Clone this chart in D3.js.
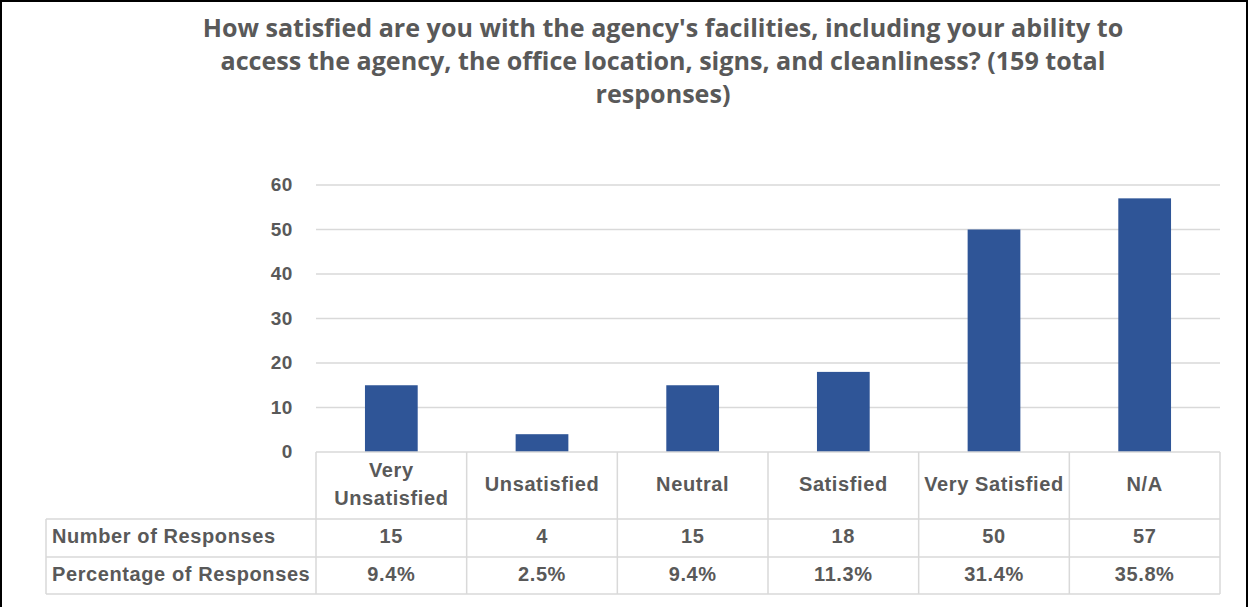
<!DOCTYPE html>
<html>
<head>
<meta charset="utf-8">
<script src="https://cdn.jsdelivr.net/npm/d3@7"></script>
<style>
  html, body { margin: 0; padding: 0; background: #fff; }
  svg { display: block; }
</style>
</head>
<body>
<svg id="chart" width="1249" height="607"></svg>
<script>
// Survey data
const categories = ["Very Unsatisfied", "Unsatisfied", "Neutral", "Satisfied", "Very Satisfied", "N/A"];
const categoryLines = [["Very", "Unsatisfied"], ["Unsatisfied"], ["Neutral"], ["Satisfied"], ["Very Satisfied"], ["N/A"]];
const responses = [15, 4, 15, 18, 50, 57];
const percentages = ["9.4%", "2.5%", "9.4%", "11.3%", "31.4%", "35.8%"];
const yTicks = [0, 10, 20, 30, 40, 50, 60];
const rowLabels = ["Number of Responses", "Percentage of Responses"];
const titleLines = [
  "How satisfied are you with the agency's facilities, including your ability to",
  "access the agency, the office location, signs, and cleanliness? (159 total",
  "responses)"
];

const svg = d3.select("#chart");
const textColor = "#595959";
const gridColor = "#D9D9D9";
const barColor = "#2F5597";
const labelFont = "'Liberation Sans', Arial, sans-serif";
const labelSize = 20;
const labelSpacing = "0.6px";
const textShift = -2;

const plot = { left: 316, right: 1220, top: 185, bottom: 452 };
const table = { left: 46, headBottom: 519, row1Bottom: 557, row2Bottom: 594 };

const x = d3.scaleBand().domain(categories).range([plot.left, plot.right]).paddingInner(0.65).paddingOuter(0.325);
const xCell = d3.scaleBand().domain(categories).range([plot.left, plot.right]);
const y = d3.scaleLinear().domain([0, 60]).range([plot.bottom, plot.top]);

// Outer frame
svg.append("rect").attr("x", 1).attr("y", 1).attr("width", 1246).attr("height", 640)
  .attr("fill", "none").attr("stroke", "#000").attr("stroke-width", 2);

// Title
svg.append("g").selectAll("text").data(titleLines).join("text")
  .attr("x", 663).attr("y", (d, i) => 37 + i * 33)
  .attr("text-anchor", "middle")
  .attr("font-family", "'Open Sans', sans-serif").attr("font-weight", 700)
  .attr("font-size", 25.1).attr("fill", textColor)
  .text(d => d);

// Gridlines and value axis
const yAxis = d3.axisLeft(y).tickValues(yTicks).tickSize(0).tickPadding(0);
const gAxis = svg.append("g").attr("transform", `translate(${plot.left},0)`).call(yAxis);
gAxis.select(".domain").remove();
gAxis.selectAll("text")
  .attr("x", -23).attr("dy", "0.3em")
  .attr("font-family", labelFont).attr("font-weight", 700).attr("font-size", 19)
  .attr("letter-spacing", labelSpacing)
  .attr("fill", textColor);

svg.append("g").selectAll("line").data(yTicks.filter(t => t > 0)).join("line")
  .attr("x1", plot.left).attr("x2", plot.right)
  .attr("y1", d => y(d)).attr("y2", d => y(d))
  .attr("stroke", gridColor).attr("stroke-width", 1.5);

// Bars
svg.append("g").selectAll("rect").data(categories).join("rect")
  .attr("x", d => x(d)).attr("width", x.bandwidth())
  .attr("y", (d, i) => y(responses[i]))
  .attr("height", (d, i) => y(0) - y(responses[i]))
  .attr("fill", barColor);

// Data table grid
const tg = svg.append("g").attr("stroke", gridColor).attr("stroke-width", 1.5).attr("fill", "none");
tg.append("line").attr("x1", plot.left).attr("x2", plot.right).attr("y1", plot.bottom).attr("y2", plot.bottom);
[table.headBottom, table.row1Bottom, table.row2Bottom].forEach(yy => {
  tg.append("line").attr("x1", table.left).attr("x2", plot.right).attr("y1", yy).attr("y2", yy);
});
tg.append("line").attr("x1", table.left).attr("x2", table.left).attr("y1", table.headBottom).attr("y2", table.row2Bottom);
categories.forEach(c => {
  tg.append("line").attr("x1", xCell(c)).attr("x2", xCell(c)).attr("y1", plot.bottom).attr("y2", table.row2Bottom);
});
tg.append("line").attr("x1", plot.right).attr("x2", plot.right).attr("y1", plot.bottom).attr("y2", table.row2Bottom);

// Category headers
const head = svg.append("g").attr("font-family", labelFont).attr("font-weight", 700)
  .attr("font-size", labelSize).attr("letter-spacing", labelSpacing)
  .attr("fill", textColor).attr("text-anchor", "middle");
categories.forEach((c, i) => {
  const lines = categoryLines[i];
  const cx = xCell(c) + xCell.bandwidth() / 2;
  const mid = (plot.bottom + table.headBottom) / 2 + textShift;
  lines.forEach((ln, j) => {
    head.append("text").attr("x", cx)
      .attr("y", mid + (j - (lines.length - 1) / 2) * 28)
      .attr("dy", "0.35em").text(ln);
  });
});

// Row labels
svg.append("g").selectAll("text").data(rowLabels).join("text")
  .attr("x", 52)
  .attr("y", (d, i) => (i === 0 ? (table.headBottom + table.row1Bottom) / 2 : (table.row1Bottom + table.row2Bottom) / 2) + textShift)
  .attr("dy", "0.35em")
  .attr("font-family", labelFont).attr("font-weight", 700).attr("font-size", labelSize)
  .attr("letter-spacing", labelSpacing)
  .attr("fill", textColor).text(d => d);

// Table values
const vals = svg.append("g").attr("font-family", labelFont).attr("font-weight", 700)
  .attr("font-size", labelSize).attr("letter-spacing", labelSpacing)
  .attr("fill", textColor).attr("text-anchor", "middle");
vals.selectAll("text.n").data(categories).join("text").attr("class", "n")
  .attr("x", d => xCell(d) + xCell.bandwidth() / 2)
  .attr("y", (table.headBottom + table.row1Bottom) / 2 + textShift).attr("dy", "0.35em")
  .text((d, i) => responses[i]);
vals.selectAll("text.p").data(categories).join("text").attr("class", "p")
  .attr("x", d => xCell(d) + xCell.bandwidth() / 2)
  .attr("y", (table.row1Bottom + table.row2Bottom) / 2 + textShift).attr("dy", "0.35em")
  .text((d, i) => percentages[i]);
</script>
</body>
</html>
